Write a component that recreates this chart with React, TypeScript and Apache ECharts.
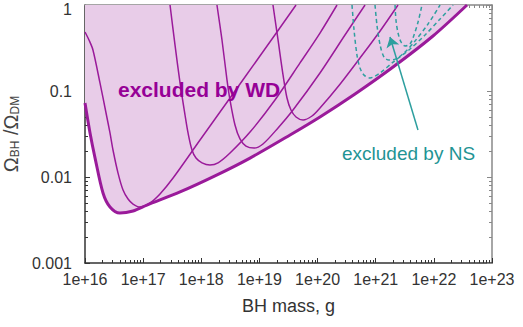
import React, { useEffect, useRef } from "react";
import * as echarts from "echarts";

// Boundary of the WD-excluded region (BH mass in g, Omega_BH/Omega_DM)
const envelope: [number, number][] = [
  [1.0e16, 0.0724], [1.22e16, 0.0325], [1.49e16, 0.0166], [2.04e16, 0.00652],
  [2.69e16, 0.00448], [3.98e16, 0.00381], [6.7e16, 0.00403], [1.16e17, 0.00472],
  [4.31e17, 0.0067], [1.72e18, 0.0103], [6.89e18, 0.0166], [3.36e19, 0.0308],
  [1.1e20, 0.0499], [4.41e20, 0.0923], [1.99e21, 0.19], [9.66e21, 0.436], [3.72e22, 1.0],
];

// Individual white-dwarf constraints
const wd1: [number, number][] = [
  [1.0e16, 0.485], [1.17e16, 0.392], [1.37e16, 0.3], [1.81e16, 0.124], [2.3e16, 0.0555],
  [2.69e16, 0.0325], [3.03e16, 0.0206], [3.7e16, 0.0111], [4.51e16, 0.00706],
  [5.5e16, 0.00555], [6.7e16, 0.00485], [8.83e16, 0.00448], [1.31e17, 0.00499],
  [1.95e17, 0.00634], [3.27e17, 0.00973], [9.51e17, 0.0269], [3.12e18, 0.083],
  [1.02e19, 0.255], [4.26e19, 1.0],
];
const wd2: [number, number][] = [
  [2.9e17, 1.0], [3.53e17, 0.343], [4.31e17, 0.124], [5.25e17, 0.0526], [5.92e17, 0.0325],
  [6.92e17, 0.0206], [8.11e17, 0.0166], [1.03e18, 0.0146], [1.41e18, 0.0138],
  [1.94e18, 0.0146], [3.12e18, 0.019], [6.89e18, 0.0333], [1.85e19, 0.0785],
  [4.99e19, 0.212], [1.1e20, 0.472], [2.16e20, 1.0],
];
const wd3: [number, number][] = [
  [1.86e18, 1.0], [2.27e18, 0.392], [2.77e18, 0.134], [3.12e18, 0.0785], [3.8e18, 0.0403],
  [4.63e18, 0.0277], [5.87e18, 0.0229], [8.07e18, 0.0217], [1.15e19, 0.0242],
  [2.09e19, 0.0372], [3.78e19, 0.0601], [1.1e20, 0.162], [2.96e20, 0.448], [6.55e20, 1.0],
];
const wd4: [number, number][] = [
  [1.71e19, 1.0], [2.09e19, 0.392], [2.55e19, 0.153], [2.98e19, 0.083], [3.49e19, 0.0601],
  [4.26e19, 0.0499], [5.62e19, 0.046], [8.02e19, 0.0512], [1.1e20, 0.0634],
  [2.43e20, 0.12], [5.37e20, 0.242], [1.19e21, 0.499], [2.42e21, 1.0],
];

// Neutron-star constraints (dashed)
const ns1: [number, number][] = [
  [3.91e20, 1.0], [4.24e20, 0.512], [4.76e20, 0.262], [5.37e20, 0.185], [6.3e20, 0.153],
  [7.98e20, 0.142], [1.19e21, 0.162], [1.99e21, 0.217], [3.89e21, 0.308],
  [7.05e21, 0.448], [1.28e22, 0.687], [2.14e22, 1.0],
];
const ns2: [number, number][] = [
  [9.73e20, 1.0], [1.05e21, 0.585], [1.19e21, 0.343], [1.39e21, 0.248], [1.69e21, 0.229],
  [2.23e21, 0.236], [3.19e21, 0.284], [4.74e21, 0.381], [7.94e21, 0.601], [1.28e22, 1.0],
];
const ns3: [number, number][] = [
  [2.15e21, 1.0], [2.23e21, 0.67], [2.42e21, 0.472], [2.72e21, 0.372], [3.19e21, 0.333],
  [3.89e21, 0.352], [4.56e21, 0.448], [5.35e21, 0.634], [6.25e21, 1.0],
];

// Annotation arrow (tail -> head)
const nsArrow: [number, number][] = [[5.33e21, 0.0352], [1.76e21, 0.425]];

// Axes
const xMin = 1e16;
const xMax = 1e23;
const yMin = 0.001;
const yMax = 1;
const xDecades = [16, 17, 18, 19, 20, 21, 22];
const yDecades = [-3, -2, -1];
const minorSteps = [2, 3, 4, 5, 6, 7, 8, 9];

const xMinor = xDecades.flatMap((d) => minorSteps.map((k) => k * Math.pow(10, d)));
const yMinor = yDecades.flatMap((d) => minorSteps.map((k) => k * Math.pow(10, d)));

const FONT = '"Liberation Sans", Arial, sans-serif';
const PURPLE = "#9a1a9a";
const FILL = "#e8cce8";
const TEAL = "#2e9f9f";

export default function App() {
  const ref = useRef<HTMLDivElement>(null);

  useEffect(() => {
    document.body.style.margin = "0";
    if (!ref.current) return;
    const chart = echarts.init(ref.current, undefined, { renderer: "svg" });

    const frameAxisX = (position: "bottom" | "top", major: boolean, color: string) => ({
      type: "log",
      logBase: 10,
      min: xMin,
      max: xMax,
      splitNumber: 7,
      position,
      axisLine: { show: major, onZero: false, lineStyle: { color, width: 1.5 } },
      axisTick: major
        ? { show: true, inside: true, length: 5, lineStyle: { color, width: 1 } }
        : { show: true, inside: true, length: 3, customValues: xMinor, lineStyle: { color, width: 1 } },
      axisLabel: { show: false },
      splitLine: { show: false },
    });
    const frameAxisY = (position: "left" | "right", major: boolean, color: string) => ({
      type: "log",
      logBase: 10,
      min: yMin,
      max: yMax,
      splitNumber: 3,
      position,
      axisLine: { show: major, onZero: false, lineStyle: { color, width: 1.5 } },
      axisTick: major
        ? { show: true, inside: true, length: 5, lineStyle: { color, width: 1 } }
        : { show: true, inside: true, length: 3, customValues: yMinor, lineStyle: { color, width: 1 } },
      axisLabel: { show: false },
      splitLine: { show: false },
    });

    const thin = (data: [number, number][]) => ({
      type: "line",
      data,
      smooth: 0.3,
      showSymbol: false,
      symbol: "none",
      z: 3,
      lineStyle: { color: PURPLE, width: 1.5 },
    });
    const dashed = (data: [number, number][]) => ({
      type: "line",
      data,
      smooth: 0.3,
      showSymbol: false,
      symbol: "none",
      z: 5,
      lineStyle: { color: TEAL, width: 1.5, type: [4, 3] },
    });

    chart.setOption({
      animation: false,
      grid: { left: 85, right: 31, top: 5, bottom: 64, outerBoundsMode: "none" },
      xAxis: [
        {
          ...frameAxisX("bottom", true, "#333"),
          axisLabel: {
            show: true,
            color: "#333",
            fontSize: 16,
            fontFamily: FONT,
            margin: 8,
            formatter: (v: number) => "1e+" + Math.round(Math.log10(v)),
          },
          name: "BH mass, g",
          nameLocation: "middle",
          nameGap: 34,
          nameTextStyle: { color: "#333", fontSize: 18, fontFamily: FONT },
        },
        frameAxisX("bottom", false, "#333"),
        frameAxisX("top", true, "#888"),
        frameAxisX("top", false, "#888"),
      ],
      yAxis: [
        {
          ...frameAxisY("left", true, "#333"),
          axisLabel: {
            show: true,
            color: "#333",
            fontSize: 16,
            fontFamily: FONT,
            margin: 13,
            formatter: (v: number) => {
              const s = String(Number(v.toPrecision(3)));
              return v >= 1 ? "{top|" + s + "}" : s;
            },
            rich: { top: { fontSize: 16, fontFamily: FONT, color: "#333", padding: [9, 0, 0, 0] } },
          },
          name: "Ω{sub|BH} /Ω{sub|DM}",
          nameLocation: "middle",
          nameRotate: 90,
          nameGap: 54,
          nameTextStyle: {
            color: "#444",
            fontSize: 20,
            fontFamily: FONT,
            rich: { sub: { fontSize: 12, color: "#444", fontFamily: FONT, padding: [8, 0, 0, 0] } },
          },
        },
        frameAxisY("left", false, "#333"),
        frameAxisY("right", true, "#888"),
        frameAxisY("right", false, "#888"),
      ],
      series: [
        {
          type: "line",
          data: envelope,
          smooth: 0.3,
          showSymbol: false,
          symbol: "none",
          z: 1,
          lineStyle: { width: 0 },
          areaStyle: { origin: "end", color: FILL, opacity: 1 },
        },
        thin(wd1),
        thin(wd2),
        thin(wd3),
        thin(wd4),
        {
          type: "line",
          data: envelope,
          smooth: 0.3,
          showSymbol: false,
          symbol: "none",
          z: 4,
          lineStyle: { color: PURPLE, width: 3 },
        },
        dashed(ns1),
        dashed(ns2),
        dashed(ns3),
        {
          type: "lines",
          coordinateSystem: "cartesian2d",
          z: 6,
          symbol: ["none", "arrow"],
          symbolSize: 10,
          lineStyle: { color: TEAL, width: 1.5, opacity: 1 },
          data: [{ coords: nsArrow }],
        },
      ],
      graphic: [
        {
          type: "text",
          x: 118,
          y: 89,
          z: 10,
          style: {
            text: "excluded by WD",
            fontSize: 21,
            fontWeight: "bold",
            fontFamily: FONT,
            fill: "#960096",
            align: "left",
            verticalAlign: "middle",
          },
        },
        {
          type: "text",
          x: 342,
          y: 153,
          z: 10,
          style: {
            text: "excluded by NS",
            fontSize: 19,
            fontFamily: FONT,
            fill: "#1f9494",
            align: "left",
            verticalAlign: "middle",
          },
        },
      ],
    });

    return () => chart.dispose();
  }, []);

  return <div ref={ref} style={{ width: 523, height: 327 }} />;
}
